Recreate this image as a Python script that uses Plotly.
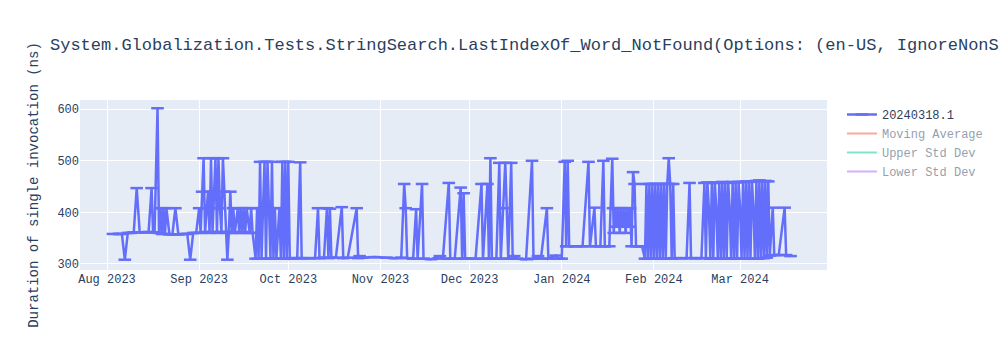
import plotly.graph_objects as go
import pandas as pd

title_text = ("System.Globalization.Tests.StringSearch.LastIndexOf_Word_NotFound"
              "(Options: (en-US, IgnoreNonSpace, False))")
series_name = "20240318.1"
y_title = "Duration of single invocation (ns)"

dates = [
    "2023-08-03", "2023-08-05", "2023-08-06", "2023-08-07", "2023-08-08", "2023-08-09",
    "2023-08-10", "2023-08-11", "2023-08-12", "2023-08-14", "2023-08-15", "2023-08-16",
    "2023-08-16 12:00", "2023-08-17", "2023-08-18", "2023-08-18 12:00", "2023-08-19",
    "2023-08-19 12:00", "2023-08-20", "2023-08-20 12:00", "2023-08-21", "2023-08-22",
    "2023-08-23", "2023-08-24", "2023-08-25", "2023-08-27", "2023-08-28", "2023-08-29",
    "2023-08-30", "2023-08-31",
    "2023-09-01", "2023-09-01 12:00", "2023-09-02", "2023-09-02 12:00", "2023-09-03",
    "2023-09-03 12:00", "2023-09-04", "2023-09-04 12:00", "2023-09-05", "2023-09-05 12:00",
    "2023-09-06", "2023-09-06 12:00", "2023-09-07", "2023-09-07 12:00", "2023-09-08",
    "2023-09-08 12:00", "2023-09-09", "2023-09-09 12:00", "2023-09-10", "2023-09-10 12:00",
    "2023-09-11", "2023-09-11 12:00", "2023-09-12", "2023-09-12 12:00", "2023-09-13",
    "2023-09-14", "2023-09-14 12:00", "2023-09-15", "2023-09-15 12:00", "2023-09-16",
    "2023-09-16 12:00", "2023-09-17", "2023-09-18", "2023-09-18 12:00", "2023-09-19",
    "2023-09-20", "2023-09-20 12:00", "2023-09-21", "2023-09-21 12:00", "2023-09-22",
    "2023-09-22 12:00", "2023-09-23", "2023-09-23 12:00", "2023-09-24", "2023-09-24 12:00",
    "2023-09-25", "2023-09-25 12:00", "2023-09-26", "2023-09-26 12:00", "2023-09-27",
    "2023-09-28", "2023-09-28 12:00", "2023-09-29", "2023-09-29 12:00", "2023-09-30",
    "2023-09-30 12:00", "2023-10-01", "2023-10-01 12:00", "2023-10-02", "2023-10-03",
    "2023-10-04", "2023-10-05", "2023-10-05 12:00", "2023-10-06", "2023-10-08",
    "2023-10-10", "2023-10-11", "2023-10-11 12:00", "2023-10-13", "2023-10-14",
    "2023-10-14 12:00", "2023-10-15", "2023-10-15 12:00", "2023-10-17", "2023-10-19",
    "2023-10-19 12:00", "2023-10-21", "2023-10-24", "2023-10-24 12:00", "2023-10-25",
    "2023-10-26", "2023-10-30", "2023-11-03", "2023-11-06", "2023-11-08",
    "2023-11-09", "2023-11-09 12:00", "2023-11-10", "2023-11-12", "2023-11-13",
    "2023-11-13 12:00", "2023-11-15", "2023-11-15 12:00", "2023-11-18", "2023-11-21",
    "2023-11-22", "2023-11-24", "2023-11-24 12:00", "2023-11-26", "2023-11-28",
    "2023-11-28 12:00", "2023-11-29", "2023-11-29 12:00", "2023-12-01", "2023-12-03",
    "2023-12-05", "2023-12-05 12:00", "2023-12-07", "2023-12-07 12:00", "2023-12-08",
    "2023-12-08 12:00", "2023-12-10", "2023-12-11", "2023-12-11 12:00", "2023-12-13",
    "2023-12-13 12:00", "2023-12-14", "2023-12-15", "2023-12-15 12:00", "2023-12-16",
    "2023-12-17", "2023-12-20", "2023-12-22", "2023-12-22 12:00", "2023-12-24",
    "2023-12-25", "2023-12-27", "2023-12-27 12:00", "2023-12-30", "2023-12-31",
    "2024-01-01", "2024-01-02", "2024-01-02 12:00", "2024-01-03", "2024-01-03 12:00",
    "2024-01-06", "2024-01-08", "2024-01-10", "2024-01-10 12:00", "2024-01-12",
    "2024-01-12 12:00", "2024-01-14", "2024-01-15", "2024-01-15 12:00", "2024-01-17",
    "2024-01-18", "2024-01-18 06:00", "2024-01-18 12:00", "2024-01-19", "2024-01-19 12:00",
    "2024-01-20", "2024-01-20 12:00", "2024-01-21", "2024-01-21 12:00", "2024-01-22",
    "2024-01-22 12:00", "2024-01-23", "2024-01-23 12:00", "2024-01-24", "2024-01-24 12:00",
    "2024-01-25", "2024-01-25 12:00", "2024-01-26", "2024-01-27", "2024-01-28",
    "2024-01-29", "2024-01-29 12:00", "2024-01-30", "2024-01-30 12:00", "2024-01-31",
    "2024-01-31 12:00", "2024-02-01", "2024-02-01 12:00", "2024-02-02", "2024-02-02 12:00",
    "2024-02-03", "2024-02-03 12:00", "2024-02-04", "2024-02-04 12:00", "2024-02-05",
    "2024-02-05 12:00", "2024-02-06", "2024-02-06 12:00", "2024-02-07", "2024-02-07 12:00",
    "2024-02-08", "2024-02-10", "2024-02-12", "2024-02-13", "2024-02-13 12:00",
    "2024-02-15", "2024-02-17", "2024-02-18", "2024-02-18 12:00", "2024-02-19",
    "2024-02-19 12:00", "2024-02-20", "2024-02-20 12:00", "2024-02-21", "2024-02-21 12:00",
    "2024-02-22", "2024-02-22 12:00", "2024-02-23", "2024-02-23 12:00", "2024-02-24",
    "2024-02-24 12:00", "2024-02-25", "2024-02-25 12:00", "2024-02-26", "2024-02-26 12:00",
    "2024-02-27", "2024-02-27 12:00", "2024-02-28", "2024-02-28 12:00", "2024-02-29",
    "2024-02-29 12:00", "2024-03-01", "2024-03-01 12:00", "2024-03-02", "2024-03-02 12:00",
    "2024-03-03", "2024-03-03 12:00", "2024-03-04", "2024-03-04 12:00", "2024-03-05",
    "2024-03-05 12:00", "2024-03-06", "2024-03-06 12:00", "2024-03-07", "2024-03-07 12:00",
    "2024-03-08", "2024-03-08 12:00", "2024-03-09", "2024-03-09 12:00", "2024-03-10",
    "2024-03-10 12:00", "2024-03-11", "2024-03-12", "2024-03-12 12:00", "2024-03-14",
    "2024-03-16", "2024-03-16 12:00", "2024-03-18",
]

durations = [
    358, 358, 358, 308, 360, 360,
    361, 447, 361, 361, 362, 447,
    361, 361, 602, 360, 408,
    358, 408, 358, 408, 357,
    357, 408, 357, 358, 358, 308,
    360, 360,
    408, 360, 440, 505, 362,
    408, 440, 360, 505, 362,
    440, 505, 360, 505, 408,
    362, 505, 440, 360, 308,
    362, 440, 360, 408, 360,
    408, 360, 408, 362, 408,
    360, 408, 360, 408, 360,
    310, 408, 310, 498, 310,
    408, 498, 310, 498, 408,
    310, 498, 310, 408, 310,
    408, 310, 498, 310, 498,
    310, 498, 310, 311, 311,
    311, 497, 311, 311, 311,
    311, 408, 311, 312, 408,
    311, 407, 312, 312, 410,
    311, 312, 408, 311, 315,
    312, 313, 312, 311, 312,
    455, 408, 311, 310, 406,
    310, 455, 310, 309, 315,
    310, 457, 310, 310, 448,
    310, 437, 310, 310, 310,
    455, 310, 455, 310, 505,
    310, 310, 496, 310, 496,
    408, 310, 496, 310, 315,
    310, 309, 500, 310, 315,
    310, 408, 310, 316, 310,
    310, 498, 334, 500, 334,
    334, 334, 498, 334, 409,
    334, 334, 500, 334, 334,
    504, 408, 360, 408, 372,
    408, 360, 408, 372, 408,
    360, 408, 372, 408, 334,
    478, 455, 334, 334, 334,
    310, 455, 310, 455, 310,
    455, 310, 455, 310, 455,
    310, 455, 310, 455, 310,
    455, 505, 455, 310, 455,
    311, 311, 311, 457, 311,
    311, 311, 457, 311, 458,
    408, 310, 457, 310, 458,
    408, 310, 457, 310, 459,
    310, 458, 310, 457, 408,
    310, 459, 310, 458, 310,
    459, 408, 310, 459, 310,
    460, 310, 459, 310, 460,
    408, 310, 461, 310, 462,
    311, 460, 311, 461, 312,
    460, 316, 409, 317, 317,
    409, 317, 315,
]

other_series = ["Moving Average", "Upper Std Dev", "Lower Std Dev"]
other_colors = ["#EF553B", "#00cc96", "#ab63fa"]

# hidden (legend-only) statistics derived from the read values
s = pd.Series(durations, dtype=float)
roll_mean = s.rolling(10, min_periods=1).mean()
roll_std = s.rolling(10, min_periods=1).std().fillna(0)
other_values = [roll_mean, roll_mean + roll_std, roll_mean - roll_std]

FONT = "Courier New, Liberation Mono, monospace"
BLUE = "#636efa"

fig = go.Figure()
fig.add_trace(go.Scatter(
    x=dates, y=durations, name=series_name, mode="lines+markers",
    line=dict(color=BLUE, width=2.5),
    marker=dict(symbol="line-ew", size=9, color=BLUE,
                line=dict(width=2.5, color=BLUE)),
))
for nm, col, vals in zip(other_series, other_colors, other_values):
    fig.add_trace(go.Scatter(x=dates, y=list(vals), name=nm, mode="lines",
                             line=dict(color=col), visible="legendonly"))

fig.update_layout(
    width=1000, height=350,
    template="plotly",
    font=dict(family=FONT, size=12),
    title=dict(text=title_text, font=dict(size=17, family=FONT)),
    margin=dict(l=80, r=80, t=100, b=80),
    yaxis=dict(title=dict(text=y_title, font=dict(size=14)), range=[288, 618]),
    xaxis=dict(range=["2023-07-22 22:00", "2024-03-30 06:00"]),
)

fig.write_html("out.html")
